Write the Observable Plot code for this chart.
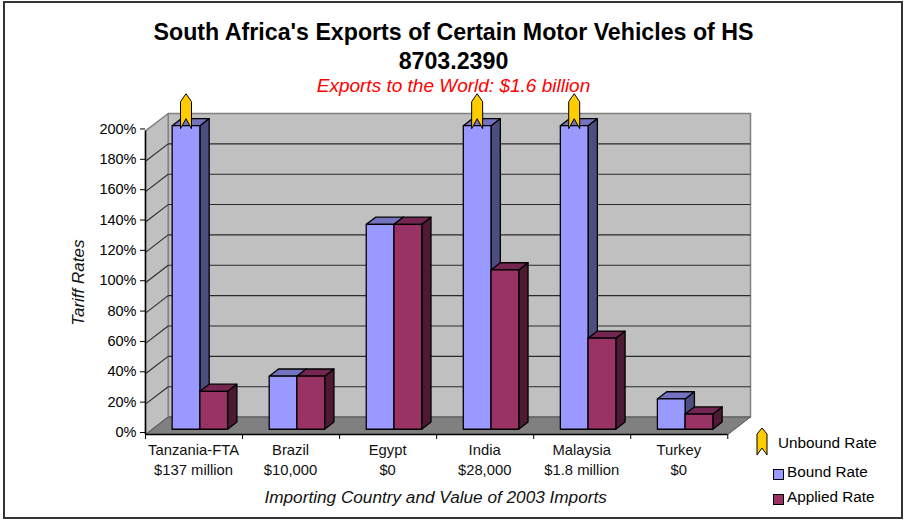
<!DOCTYPE html>
<html>
<head>
<meta charset="utf-8">
<script src="https://cdn.jsdelivr.net/npm/d3@7"></script>
<script src="https://cdn.jsdelivr.net/npm/@observablehq/plot@0.6"></script>
<style>
html,body{margin:0;padding:0;background:#fff}
#page{position:relative;width:907px;height:520px;font-family:"Liberation Sans",Arial,sans-serif;color:#000;overflow:hidden}
#border{position:absolute;left:3px;top:1px;width:900px;height:518px;box-sizing:border-box;border:2px solid #333}
#chart{position:absolute;left:0;top:0}
#chart svg{display:block;background:transparent}
#title{position:absolute;left:0;width:907px;top:18px;text-align:center;font-weight:bold;font-size:23.2px;line-height:28.5px}
#subtitle{position:absolute;left:0;width:907px;top:76px;text-align:center;font-style:italic;font-size:19px;line-height:20px;color:#ff0000}
.lg{position:absolute;font-size:15.3px;line-height:18px;white-space:nowrap}
.sw{position:absolute;width:9px;height:9px;border:1px solid #000}
</style>
</head>
<body>
<div id="page">
  <div id="border"></div>
  <div id="chart"></div>
  <div id="title">South Africa's Exports of Certain Motor Vehicles of HS<br>8703.2390</div>
  <div id="subtitle">Exports to the World: $1.6 billion</div>
  <svg style="position:absolute;left:755px;top:426px" width="14" height="31" viewBox="-7 -2 14 31">
    <path d="M0,0 L5,6 L5,27 L0,20 L-5,27 L-5,6 Z" fill="#FFCC00" stroke="#000" stroke-width="1"/>
  </svg>
  <div class="lg" style="left:778px;top:434px">Unbound Rate</div>
  <div class="sw" style="left:773px;top:469px;background:#9999FF"></div>
  <div class="lg" style="left:787px;top:463px">Bound Rate</div>
  <div class="sw" style="left:773px;top:494px;background:#993366"></div>
  <div class="lg" style="left:787px;top:488px">Applied Rate</div>
</div>
<script>
const countries = ["Tanzania-FTA", "Brazil", "Egypt", "India", "Malaysia", "Turkey"];
const importValues = ["$137 million", "$10,000", "$0", "$28,000", "$1.8 million", "$0"];
const boundRates = [200, 35, 135, 200, 200, 20];
const appliedRates = [25, 35, 135, 105, 60, 10];
const unboundFlags = [true, false, false, true, true, false];
const yTicks = [0, 20, 40, 60, 80, 100, 120, 140, 160, 180, 200];
const xBoundaries = [0, 1, 2, 3, 4, 5, 6];

const depthX = 0.234, depthY = 11.5;      // oblique projection of the chart's depth, in data units
const barW = 0.2856, d0 = 0.3, d1 = 0.71; // bar width (categories) and depth span
const mid = 0.49;                         // where the two bars of a group meet

const colors = {
  bound: {front: "#9999FF", side: "#4D4D80", top: "#7373BF"},
  applied: {front: "#993366", side: "#4D1933", top: "#732650"}
};
const P = (c, v, d) => ({x: c + d * depthX, y: v + d * depthY});

const shell = [];
function poly(list, id, fill, corners) {
  corners.concat(corners[0]).forEach(p => list.push({...p, id, fill}));
}
poly(shell, "back", "#C0C0C0", [P(0,0,1), P(6,0,1), P(6,200,1), P(0,200,1)]);
poly(shell, "side", "#C0C0C0", [P(0,0,0), P(0,0,1), P(0,200,1), P(0,200,0)]);

const floor = [];
poly(floor, "floor", "#808080", [P(0,0,0), P(6,0,0), P(6,0,1), P(0,0,1)]);

const faces = [];
function bar(id, left, v, col) {
  const r = left + barW;
  poly(faces, id + "s", col.side, [P(r,0,d0), P(r,0,d1), P(r,v,d1), P(r,v,d0)]);
  poly(faces, id + "t", col.top, [P(left,v,d0), P(r,v,d0), P(r,v,d1), P(left,v,d1)]);
  poly(faces, id + "f", col.front, [P(left,0,d0), P(r,0,d0), P(r,v,d0), P(left,v,d0)]);
}
countries.forEach((_, i) => {
  bar("b" + i, i + mid - barW, boundRates[i], colors.bound);
  bar("a" + i, i + mid, appliedRates[i], colors.applied);
});

const arrows = countries.map((_, i) => i).filter(i => unboundFlags[i])
  .map(i => P(i + mid - barW / 2, boundRates[i], d0));
const arrowSymbol = {
  draw(ctx) {
    ctx.moveTo(0, -32); ctx.lineTo(5.5, -24); ctx.lineTo(5.5, 3);
    ctx.lineTo(0, -7); ctx.lineTo(-5.5, 3); ctx.lineTo(-5.5, -24); ctx.closePath();
  }
};

const cats = countries.map((c, i) => ({c, imp: importValues[i], x: i + 0.5}));
const gridCol = "#2a2a2a";

const plot = Plot.plot({
  width: 907, height: 520,
  marginLeft: 145, marginRight: 157, marginTop: 113, marginBottom: 86,
  x: {domain: [0, 6 + depthX], axis: null},
  y: {domain: [0, 200 + depthY], axis: null},
  color: {type: "identity"},
  style: {fontFamily: "'Liberation Sans', Arial, sans-serif", fontSize: "14px", color: "#000", background: "transparent", overflow: "visible"},
  marks: [
    Plot.line(shell, {x: "x", y: "y", z: "id", fill: "fill", stroke: "#808080", strokeWidth: 1.5}),
    Plot.link(yTicks.slice(1, -1), {x1: 0, y1: d => d, x2: depthX, y2: d => d + depthY, stroke: gridCol, strokeWidth: 1.1}),
    Plot.link(yTicks.slice(1, -1), {x1: depthX, y1: d => d + depthY, x2: 6 + depthX, y2: d => d + depthY, stroke: gridCol, strokeWidth: 1.1}),
    Plot.line(floor, {x: "x", y: "y", z: "id", fill: "fill", stroke: "#555", strokeWidth: 1}),
    Plot.line(faces, {x: "x", y: "y", z: "id", fill: "fill", stroke: "#000", strokeWidth: 1.3}),
    Plot.dot(arrows, {x: "x", y: "y", r: 5, symbol: arrowSymbol, fill: "#FFCC00", stroke: "#000", strokeWidth: 1}),
    Plot.ruleX([0], {y1: 0, y2: 200, stroke: "#000", strokeWidth: 1.5}),
    Plot.ruleY([0], {x1: 0, x2: 6, stroke: "#000", strokeWidth: 1.5}),
    Plot.axisY({ticks: yTicks, tickFormat: d => d + "%", tickSize: 5, tickPadding: 4, label: null, anchor: "left", stroke: "#000", fill: "#000", fontSize: 14.5, dy: -2}),
    Plot.axisX({ticks: xBoundaries, tickFormat: () => "", tickSize: 5, label: null, anchor: "bottom", stroke: "#000"}),
    Plot.text(cats, {x: "x", y: () => 0, text: "c", dy: 16, dx: -0.5, fontSize: 14.8, fill: "#111"}),
    Plot.text(cats, {x: "x", y: () => 0, text: "imp", dy: 36, dx: -0.5, fontSize: 14.8, fill: "#111"}),
    Plot.text(["Importing Country and Value of 2003 Imports"], {x: () => 3, y: () => 0, text: d => d, dy: 63, dx: -1, fontSize: 17.2, fontStyle: "italic", fill: "#111"}),
    Plot.text(["Tariff Rates"], {x: () => 0, y: () => 100, text: d => d, dx: -67, rotate: -90, fontSize: 17, fontStyle: "italic", fill: "#111"})
  ]
});
document.getElementById("chart").appendChild(plot);
</script>
</body>
</html>
